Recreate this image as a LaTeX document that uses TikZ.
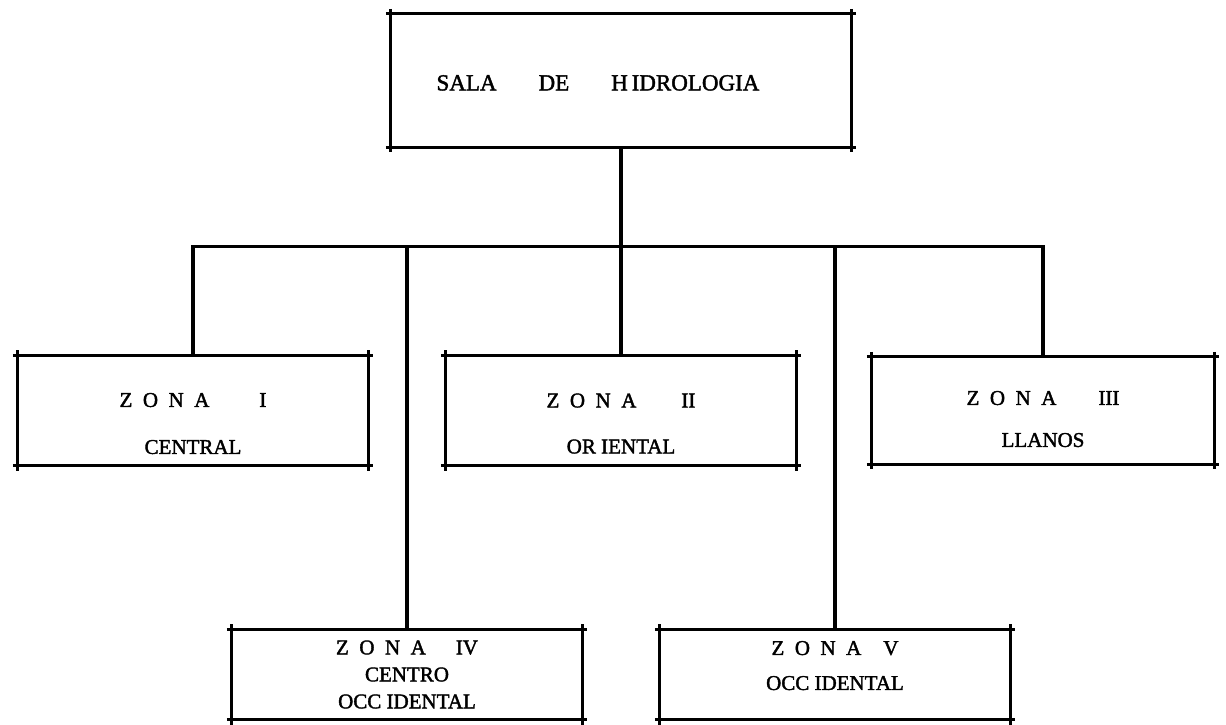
\documentclass[tikz,border=0pt]{standalone}
\usepackage{fontspec}
\setmainfont{Liberation Serif}[BoldFont={Liberation Serif}, BoldFeatures={FakeBold=1.8}]
\usetikzlibrary{positioning}

\tikzstyle{zonebox}=[minimum width=350pt, minimum height=110pt]
\tikzstyle{lowbox}=[minimum height=90pt]
\tikzstyle{boxrule}=[line width=3.2pt, shorten <=-5pt, shorten >=-5pt]

\begin{document}
\begin{tikzpicture}[grow=down, level distance=330pt, sibling distance=214pt,
  nodes={align=center, inner sep=0pt, font=\bfseries\fontsize{21}{27}\selectfont},
  edge from parent/.style={draw, line width=3.2pt},
  edge from parent path={(\tikzparentnode.south) -- ++(0,-99pt) -| (\tikzchildnode.north)}]
\useasboundingbox (0,0) rectangle (1226pt,-725pt);
\node [minimum width=460pt, minimum height=133pt, font=\bfseries\fontsize{23}{27}\selectfont] (sala) at (621pt,-80.5pt)
  {\rule{0pt}{20pt}SALA\hspace{42pt}DE\hspace{42pt}H\,IDROLOGIA\hspace{46pt}}
  child {node [zonebox] (zone1) {\rule{0pt}{40pt}Z\enspace O\enspace N\enspace A\hspace{50pt}I\\[20pt]CENTRAL}}
  child [level distance=594pt] {node [zonebox, lowbox] (zone4) {Z\enspace O\enspace N\enspace A\hspace{30pt}IV\\CENTRO\\OCC IDENTAL}}
  child {node [zonebox] (zone2) {\rule{0pt}{40pt}Z\enspace O\enspace N\enspace A\hspace{45pt}II\\[19pt]OR IENTAL}}
  child [level distance=594pt] {node [zonebox, lowbox] (zone5) {Z\enspace O\enspace N\enspace A\hspace{22pt}V\\[8pt]OCC IDENTAL\rule[-18pt]{0pt}{1pt}}}
  child {node [zonebox, xshift=-6pt, minimum width=342pt, minimum height=107pt] (zone3) {\rule{0pt}{31pt}Z\enspace O\enspace N\enspace A\hspace{42pt}III\\[15pt]LLANOS}};
% hand ruled frames, lines run past the corners
\foreach \n in {sala, zone1, zone2, zone3, zone4, zone5} {
  \draw [boxrule] (\n.north west) -- (\n.north east);
  \draw [boxrule] (\n.south west) -- (\n.south east);
  \draw [boxrule] (\n.north west) -- (\n.south west);
  \draw [boxrule] (\n.north east) -- (\n.south east);
}
\end{tikzpicture}
\end{document}
